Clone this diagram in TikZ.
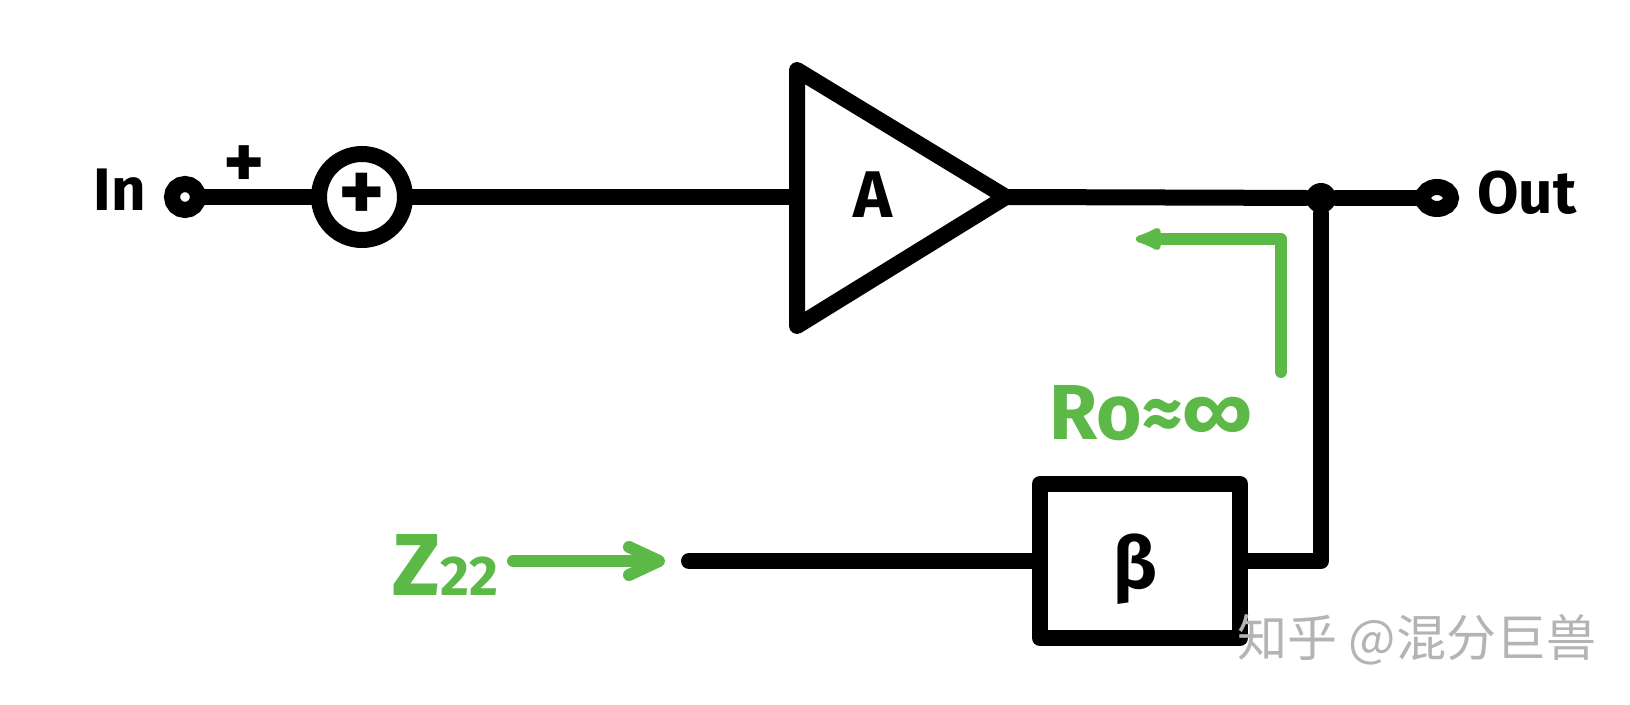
\documentclass[tikz,border=0pt]{standalone}
\usepackage{fontspec}
\setmainfont{Fira Sans}[BoldFont={Fira Sans Bold}]
\newfontfamily\cjk{Noto Sans CJK SC}
\usepackage{tikz}
\usetikzlibrary{arrows.meta, positioning, shapes.geometric}

\definecolor{handgreen}{HTML}{5CB947}
\definecolor{markgray}{HTML}{B4B4B4}

\newcommand{\hand}[1]{\fontsize{#1}{#1}\selectfont\bfseries}

\tikzset{
    wire/.style={line width=8pt, line join=round, line cap=round},
    probe/.style={line width=6pt, color=handgreen, line join=round, line cap=round},
    interm/.style={circle, draw, line width=8pt, fill=white, minimum size=13pt, inner sep=0pt, outer sep=0pt},
    outterm/.style={ellipse, draw, line width=8pt, fill=white, minimum width=14pt, minimum height=11pt, inner sep=0pt, outer sep=0pt},
    adder/.style={circle, draw, line width=8pt, fill=white, minimum size=43pt, inner sep=0pt, outer sep=0pt},
    block/.style={rectangle, draw, line width=8pt, line join=round, minimum width=100pt, minimum height=77pt, inner sep=0pt, outer sep=0pt},
    blackhand/.style={inner sep=0pt, font=\hand{#1}},
    greenhand/.style={inner sep=0pt, text=handgreen, font=\hand{#1}}
}

\begin{document}
\begin{tikzpicture}[x=0.5pt, y=-0.5pt]
        \useasboundingbox (0,0) rectangle (1630,705);

        \node (in) [interm] at (185,197) {};
        \node (sum) [adder] at (362,197) {};
        \node (sumplus) [blackhand=44] at (362,197) {+};
        \coordinate (ampin) at (797,197);
        \coordinate (amptop) at (797,70);
        \coordinate (ampbot) at (797,326);
        \coordinate (ampout) at (1006,197);
        \node (ampname) [blackhand=33] at (873,195) {A};
        \node (tap) [circle, fill, minimum size=15pt, inner sep=0pt] at (1321,198) {};
        \node (out) [outterm] at (1437,198) {};
        \node (fb) [block] at (1140,561) {};
        \node (fbname) [blackhand=36] at (1135,569) {\char"03B2};
        \coordinate (fbend) at (689,561);
        \coordinate (fbcorner) at (1321,561);

        \node (inname) [blackhand=30] at (120,190) {In};
        \node (inplus) [blackhand=39] at (244,167) {+};
        \node (outname) [blackhand=30] at (1527,193) {Out};

        % green probes
        \coordinate (rostart) at (1281,372);
        \coordinate (rocorner) at (1281,239);
        \coordinate (roend) at (1136,239);
        \node (roname) [greenhand=39] at (1151,413) {Ro≈∞};
        \node (zname) [greenhand=44, anchor=west] at (392,565) {Z{\hand{28}22}};
        \coordinate (zstart) at (513,561);
        \coordinate (zend) at (665,561);

        \draw[wire] (amptop) -- (ampout) -- (ampbot) -- cycle;
        \path[wire]
        (in) edge (sum)
        (sum) edge (ampin)
        (ampout) edge (tap)
        (tap) edge (out);
        \draw[wire] (fbend) -- (fb.west);
        \draw[wire] (fb.east) -- (fbcorner) -- (tap);

        \draw[probe, -{Latex[length=17pt, width=14pt, round]}] (rostart) -- (rocorner) -- (roend);
        \draw[probe, -{Straight Barb[length=15pt, width=14pt, round]}] (zstart) -- (zend);

        \node (mark) [text=markgray, font=\cjk\fontsize{25}{25}\selectfont] at (1417,640) {知乎\ @混分巨兽};
    \end{tikzpicture}
\end{document}
